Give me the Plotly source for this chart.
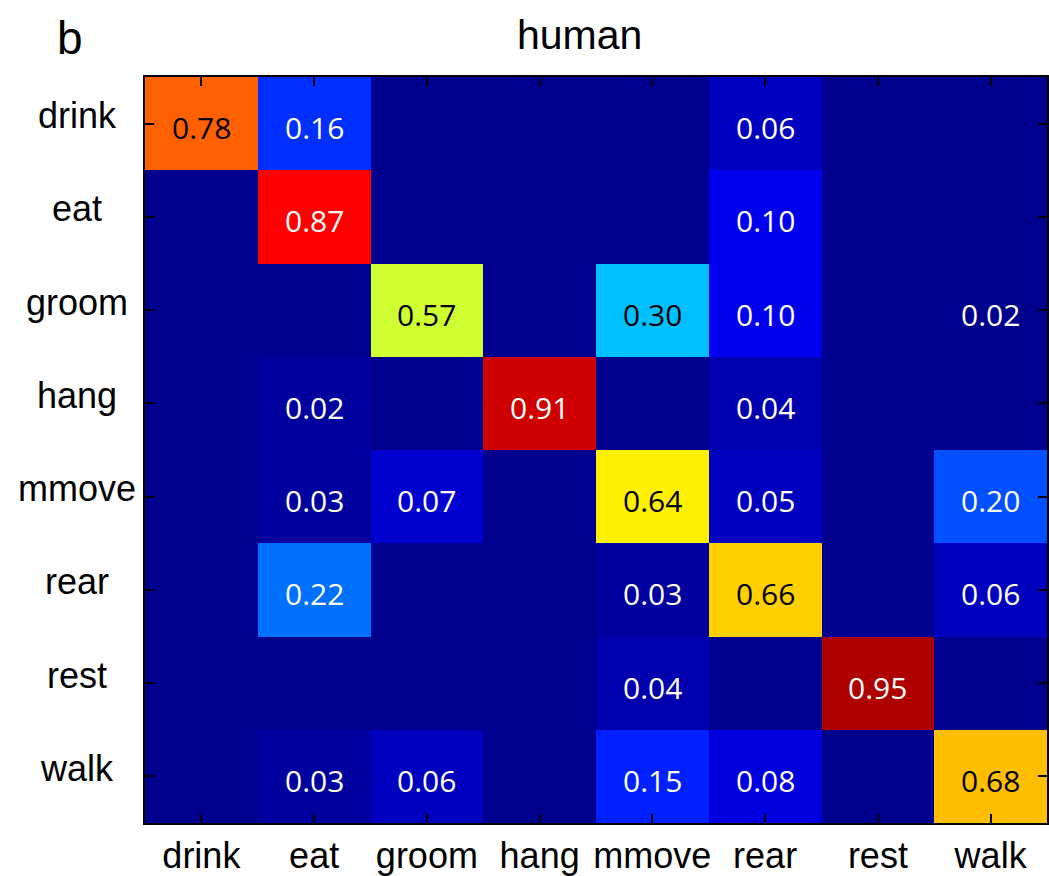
import plotly.graph_objects as go

categories = ["drink", "eat", "groom", "hang", "mmove", "rear", "rest", "walk"]

# rows = true class, columns = predicted class
drink_row = [0.78, 0.16, 0.00, 0.00, 0.00, 0.06, 0.00, 0.00]
eat_row   = [0.00, 0.87, 0.00, 0.00, 0.00, 0.10, 0.00, 0.00]
groom_row = [0.00, 0.00, 0.57, 0.00, 0.30, 0.10, 0.00, 0.0155]
hang_row  = [0.00, 0.02, 0.00, 0.91, 0.00, 0.04, 0.00, 0.00]
mmove_row = [0.00, 0.03, 0.07, 0.00, 0.64, 0.05, 0.00, 0.20]
rear_row  = [0.00, 0.22, 0.00, 0.00, 0.03, 0.66, 0.00, 0.06]
rest_row  = [0.00, 0.00, 0.00, 0.00, 0.04, 0.00, 0.95, 0.00]
walk_row  = [0.00, 0.03, 0.06, 0.00, 0.15, 0.08, 0.00, 0.68]

z = [drink_row, eat_row, groom_row, hang_row, mmove_row, rear_row, rest_row, walk_row]

# MATLAB-style stepwise jet(64) colormap
def _clip(v):
    return max(0.0, min(1.0, v))

N = 64
jet = []
for k in range(N):
    t = (k + 1) / N
    r = _clip(1.5 - abs(4 * t - 3))
    g = _clip(1.5 - abs(4 * t - 2))
    b = _clip(1.5 - abs(4 * t - 1))
    col = f"rgb({round(r*255)},{round(g*255)},{round(b*255)})"
    jet.append([k / N, col])
    jet.append([(k + 1) / N, col])

fig = go.Figure()
fig.add_trace(go.Heatmap(
    z=z, x=categories, y=categories,
    colorscale=jet, zmin=0, zmax=1, showscale=False,
    hoverinfo="skip",
))

annotations = []
for i, row in enumerate(z):
    for j, v in enumerate(row):
        if v <= 0:
            continue
        color = "black" if 0.28 <= v <= 0.8 else "white"
        annotations.append(dict(
            x=categories[j], y=categories[i], xref="x", yref="y",
            text=f"{v:.2f}", showarrow=False, yshift=-4,
            xanchor="center", yanchor="middle",
            font=dict(family="Open Sans", size=30, color=color),
        ))

# y tick labels (drawn slightly above the tick, as in the reference)
for c in categories:
    annotations.append(dict(
        x=0, y=c, xref="paper", yref="y", xanchor="center", yanchor="middle",
        xshift=-68, yshift=8, text=c, showarrow=False,
        font=dict(family="Liberation Sans, Arial", size=36, color="black"),
    ))

W, H = 1049, 876
L, R, T, B = 145, 0, 77, 44
pw, ph = W - L - R, H - T - B

def px_to_paper(xp, yp):
    return (xp - L) / pw, 1 + (T - yp) / ph

tx, ty = px_to_paper(580, 34)
annotations.append(dict(
    x=tx, y=ty, xref="paper", yref="paper", text="human", showarrow=False,
    xanchor="center", yanchor="middle",
    font=dict(family="Liberation Sans, Arial", size=41, color="black"),
))
bx, by = px_to_paper(70, 38)
annotations.append(dict(
    x=bx, y=by, xref="paper", yref="paper", text="b", showarrow=False,
    xanchor="center", yanchor="middle",
    font=dict(family="Liberation Sans, Arial", size=46, color="black"),
))

fig.update_layout(
    width=W, height=H,
    margin=dict(l=L, r=R, t=T, b=B, pad=0),
    paper_bgcolor="white", plot_bgcolor="white",
    annotations=annotations,
    showlegend=False,
)
fig.update_xaxes(
    range=[-0.5, 7.5], showgrid=False, zeroline=False,
    showline=True, linecolor="black", linewidth=2, mirror="ticks",
    ticks="inside", ticklen=9, tickwidth=1.5, tickcolor="black",
    tickfont=dict(family="Liberation Sans, Arial", size=36, color="black"),
    ticklabelstandoff=0,
)
fig.update_yaxes(
    autorange="reversed", showgrid=False, zeroline=False,
    showline=True, linecolor="black", linewidth=2, mirror="ticks",
    ticks="inside", ticklen=9, tickwidth=1.5, tickcolor="black",
    showticklabels=False,
)

fig.write_html(
    "out.html",
    config={"displayModeBar": False},
    post_script="document.body.style.margin='0px';document.body.style.overflow='hidden';",
)
